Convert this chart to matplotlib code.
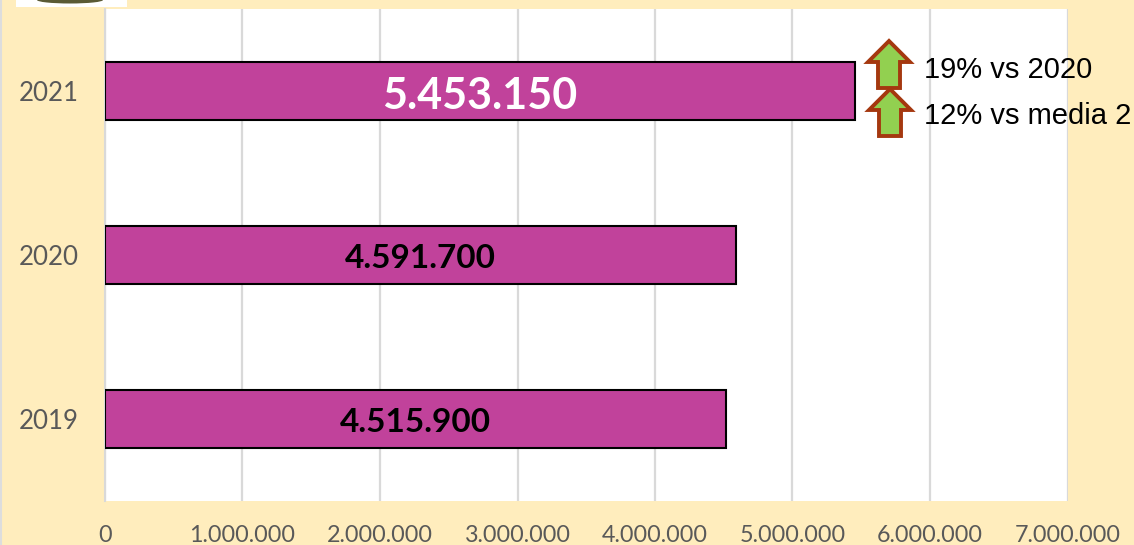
import matplotlib
matplotlib.use("Agg")
import matplotlib.pyplot as plt
from matplotlib.patches import Polygon, Rectangle, Ellipse
from matplotlib.lines import Line2D
from matplotlib.transforms import Affine2D

years = ["2019", "2020", "2021"]
values = [4515900, 4591700, 5453150]
value_labels = ["4.515.900", "4.591.700", "5.453.150"]
x_ticks = [0, 1000000, 2000000, 3000000, 4000000, 5000000, 6000000, 7000000]
x_labels = ["0", "1.000.000", "2.000.000", "3.000.000", "4.000.000", "5.000.000", "6.000.000", "7.000.000"]
notes = ["19% vs 2020", "12% vs media 2"]

W, H = 1134, 545
BG = "#FFEDBD"
fig = plt.figure(figsize=(W / 100, H / 100), dpi=100, facecolor=BG)
ax = fig.add_axes([105 / W, 1 - 501 / H, (1067.5 - 105) / W, 492 / H], facecolor="white")

ax.barh(years, values, height=0.354, color="#C1429B", edgecolor="black", linewidth=1.5, zorder=3)
ax.set_xlim(0, 7000000)
ax.set_ylim(-0.5, 2.5)
ax.set_xticks(x_ticks, x_labels)
ax.grid(axis="x", color="#D9D9D9", linewidth=1.6, zorder=0)
ax.set_axisbelow(True)
for s in ["top", "right", "bottom"]:
    ax.spines[s].set_visible(False)
ax.spines["left"].set_color("#D9D9D9")
ax.spines["left"].set_linewidth(1.5)
ax.tick_params(axis="both", length=0, colors="#595959", labelfontfamily="Lato")
ax.tick_params(axis="x", labelsize=16.8, pad=17)
ax.tick_params(axis="y", labelsize=18.6, pad=19)

# data labels
for i, (v, t) in enumerate(zip(values, value_labels)):
    big = i == 2
    ax.text(v / 2, i - (0.032 if big else 0.024), t,
            ha="center", va="center", family="Lato", fontweight="bold",
            fontsize=31 if big else 24, color="white" if big else "black", zorder=5)

px = Affine2D().scale(1, -1).translate(0, H)  # pixel coordinates, y downward

# logo remnant
fig.add_artist(Rectangle((16, 0), 111, 7, transform=px, facecolor="white", edgecolor="none"))
fig.add_artist(Ellipse((70, 0), 66, 7, transform=px, facecolor="#5A5A35", edgecolor="none"))
# left frame edge
fig.add_artist(Line2D([0.8, 0.8], [0, H], transform=px, color="#DDDDDD", linewidth=1.5))

def arrow(cx, top):
    pts = [(cx, top), (cx + 21, top + 21), (cx + 11, top + 21), (cx + 11, top + 47),
           (cx - 11, top + 47), (cx - 11, top + 21), (cx - 21, top + 21)]
    fig.add_artist(Polygon(pts, closed=True, transform=px, facecolor="#92D050",
                           edgecolor="#A5380F", linewidth=2.8, joinstyle="miter"))

arrow(889, 41)
arrow(890, 89)

fig.text(924 / W, 1 - 70.5 / H, notes[0], family="Liberation Sans", fontsize=21, color="black",
         va="center", ha="left", zorder=10)
fig.text(924 / W, 1 - 116.5 / H, notes[1], family="Liberation Sans", fontsize=21, color="black",
         va="center", ha="left", zorder=10)

fig.savefig("out.png", dpi=100, facecolor=BG)
